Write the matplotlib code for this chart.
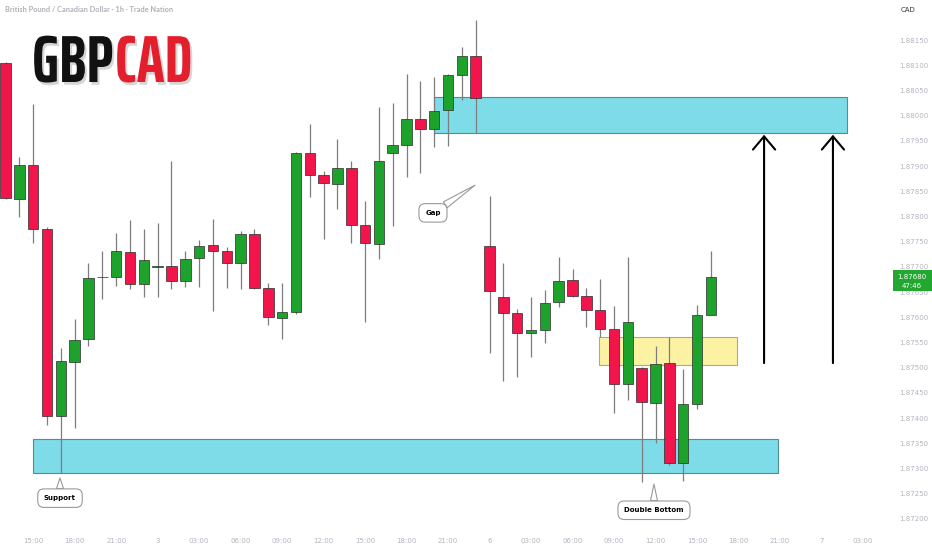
"""GBPCAD 1h candlestick chart with supply / demand zones"""
import matplotlib
matplotlib.use('Agg')
import matplotlib.pyplot as plt
import matplotlib.patheffects as pe
import numpy as np
from matplotlib.patches import Rectangle
from matplotlib.transforms import blended_transform_factory

GREEN = '#1DA32B'
RED = '#F2154B'
WICK = '#7d7d7d'
AXIS_TXT = '#b2b5be'

# hourly candles (index 0 = 13:00 on the 2nd)
opens = [1.88104, 1.87835, 1.87902, 1.87775, 1.87404, 1.87511, 1.87557, 1.87679, 1.87680, 1.87729,
         1.87666, 1.87700, 1.87702, 1.87672, 1.87717, 1.87743, 1.87731, 1.87708, 1.87765, 1.87658,
         1.87598, 1.87610, 1.87926, 1.87882, 1.87864, 1.87896, 1.87783, 1.87745, 1.87926, 1.87942,
         1.87993, 1.87973, 1.88011, 1.88081, 1.88118, 1.87741, 1.87640, 1.87608, 1.87569, 1.87575,
         1.87630, 1.87674, 1.87642, 1.87614, 1.87577, 1.87467, 1.87499, 1.87430, 1.87509, 1.87311,
         1.87428, 1.87604]
highs = [1.88106, 1.87918, 1.88023, 1.87779, 1.87539, 1.87596, 1.87708, 1.87731, 1.87767, 1.87793,
         1.87775, 1.87787, 1.87910, 1.87731, 1.87753, 1.87795, 1.87739, 1.87771, 1.87775, 1.87668,
         1.87668, 1.87928, 1.87983, 1.87890, 1.87954, 1.87910, 1.87831, 1.88017, 1.88025, 1.88083,
         1.88069, 1.88077, 1.88083, 1.88136, 1.88190, 1.87840, 1.87708, 1.87616, 1.87640, 1.87654,
         1.87719, 1.87696, 1.87658, 1.87676, 1.87622, 1.87719, 1.87501, 1.87543, 1.87561, 1.87497,
         1.87624, 1.87731]
lows = [1.87834, 1.87799, 1.87747, 1.87386, 1.87291, 1.87380, 1.87543, 1.87636, 1.87662, 1.87656,
        1.87640, 1.87640, 1.87656, 1.87660, 1.87660, 1.87612, 1.87658, 1.87656, 1.87656, 1.87585,
        1.87557, 1.87606, 1.87838, 1.87755, 1.87815, 1.87747, 1.87590, 1.87715, 1.87781, 1.87878,
        1.87886, 1.87938, 1.87940, 1.88031, 1.87965, 1.87529, 1.87473, 1.87481, 1.87521, 1.87549,
        1.87620, 1.87640, 1.87581, 1.87561, 1.87410, 1.87436, 1.87273, 1.87350, 1.87307, 1.87275,
        1.87418, 1.87604]
closes = [1.87836, 1.87902, 1.87775, 1.87404, 1.87513, 1.87555, 1.87678, 1.87680, 1.87731, 1.87666,
          1.87713, 1.87701, 1.87672, 1.87715, 1.87741, 1.87731, 1.87708, 1.87765, 1.87658, 1.87600,
          1.87610, 1.87926, 1.87882, 1.87866, 1.87896, 1.87783, 1.87747, 1.87910, 1.87942, 1.87993,
          1.87973, 1.88009, 1.88081, 1.88118, 1.88035, 1.87652, 1.87608, 1.87569, 1.87575, 1.87628,
          1.87672, 1.87642, 1.87614, 1.87577, 1.87467, 1.87590, 1.87432, 1.87507, 1.87311, 1.87428,
          1.87604, 1.87680]

time_ticks = [2, 5, 8, 11, 14, 17, 20, 23, 26, 29, 32, 35, 38, 41, 44, 47, 50, 53, 56, 59, 62]
time_labels = ['15:00', '18:00', '21:00', '3', '03:00', '06:00', '09:00', '12:00', '15:00', '18:00',
               '21:00', '6', '03:00', '06:00', '09:00', '12:00', '15:00', '18:00', '21:00', '7', '03:00']
price_ticks = np.arange(1.87200, 1.881501, 0.0005)

# drawn zones: (start idx, end idx, low price, high price)
resistance_zone = [30.95, 60.85, 1.87965, 1.88037]
support_zone = [1.99, 55.85, 1.87291, 1.87358]
pivot_zone = [42.9, 52.9, 1.87505, 1.87561]
arrow_x = [54.85, 59.83]
arrow_from, arrow_to = 1.87509, 1.87962
last_price, countdown = 1.87680, '47:46'

opens, highs, lows, closes = map(np.array, (opens, highs, lows, closes))
idx = np.arange(len(opens))

fig = plt.figure(figsize=(9.32, 5.5), dpi=100)
ax = fig.add_axes([0, 20 / 550, 885 / 932, 530 / 550])
ax.set_xlim(-0.398, 63.594)
ax.set_ylim(1.871778, 1.882294)

for z, fc, ec in [(resistance_zone, '#7EDCE9', '#4f8e96'), (support_zone, '#7EDCE9', '#4f8e96'),
                  (pivot_zone, '#FCF2A4', '#b0aa80')]:
    ax.add_patch(Rectangle((z[0], z[2]), z[1] - z[0], z[3] - z[2], fc=fc, ec=ec, lw=0.8, zorder=1))

up = closes >= opens
ax.vlines(idx, lows, highs, color=WICK, lw=0.9, zorder=2)
ax.bar(idx, closes - opens, bottom=opens, width=0.76, color=np.where(up, GREEN, RED),
       edgecolor='#2b2b2b', linewidth=0.5, zorder=3)

for x in arrow_x:
    ax.annotate('', xy=(x, arrow_to), xytext=(x, arrow_from),
                arrowprops=dict(arrowstyle='->,head_length=0.95,head_width=0.8', color='black',
                                lw=1.5, shrinkA=0, shrinkB=0), zorder=4)

callout = dict(fontsize=5, fontweight='bold', ha='center', va='center', zorder=6,
               bbox=dict(boxstyle='round,pad=0.9', fc='white', ec='#9a9a9a', lw=0.8))
wedge = dict(arrowstyle='wedge,tail_width=0.5', fc='white', ec='#9a9a9a', lw=0.8,
             shrinkA=0, shrinkB=0, mutation_scale=10)
ax.annotate('Gap', xy=(33.95, 1.87862), xytext=(30.91, 1.87807), arrowprops=wedge, **callout)
ax.annotate('Support', xy=(3.94, 1.87281), xytext=(3.94, 1.87241), arrowprops=wedge, **callout)
ax.annotate('Double Bottom', xy=(46.89, 1.87269), xytext=(46.89, 1.87217), arrowprops=wedge, **callout)

ax.set_xticks(time_ticks)
ax.set_xticklabels(time_labels)
ax.set_yticks(price_ticks)
ax.set_yticklabels([f'{p:.5f}' for p in price_ticks])
ax.yaxis.tick_right()
ax.tick_params(axis='x', length=0, pad=5.5, labelsize=5, labelcolor=AXIS_TXT)
ax.tick_params(axis='y', length=0, pad=10, labelsize=5, labelcolor=AXIS_TXT)
for s in ax.spines.values():
    s.set_visible(False)

# last price tag
tr = blended_transform_factory(ax.transAxes, ax.transData)
ax.add_patch(Rectangle((1.009, last_price - 0.000278), 0.045, 0.000417, transform=tr,
                       fc='#22A830', ec='none', clip_on=False, zorder=8))
ax.text(1.0305, last_price, f'{last_price:.5f}', transform=tr, color='white', fontsize=5,
        ha='center', va='center', zorder=9, clip_on=False)
ax.text(1.0305, last_price - 0.00019, countdown, transform=tr, color='white', fontsize=5,
        ha='center', va='center', zorder=9, clip_on=False)

fig.text(5 / 932, 1 - 9 / 550, 'British Pound / Canadian Dollar · 1h · Trade Nation', fontsize=5.3,
         fontweight='bold', family=['Lato', 'DejaVu Sans'], color='#aeb1b8', va='center', ha='left')
fig.text(908 / 932, 1 - 10 / 550, 'CAD', fontsize=5, color='#333333', ha='center', va='center')

logo_fx = [pe.withSimplePatchShadow(offset=(1.5, -2), shadow_rgbFace='#777777', alpha=0.3)]
logo_font = ['Saira ExtraCondensed', 'Fira Sans Extra Condensed', 'DejaVu Sans']
fig.text(32 / 932, 1 - 82 / 550, 'GBP', fontsize=48, fontweight='bold', family=logo_font,
         color='#111111', va='baseline', ha='left', path_effects=logo_fx)
fig.text(115 / 932, 1 - 82 / 550, 'CAD', fontsize=48, fontweight='bold', family=logo_font,
         color='#E31E2D', va='baseline', ha='left', path_effects=logo_fx)

fig.savefig('out.png', dpi=100)
